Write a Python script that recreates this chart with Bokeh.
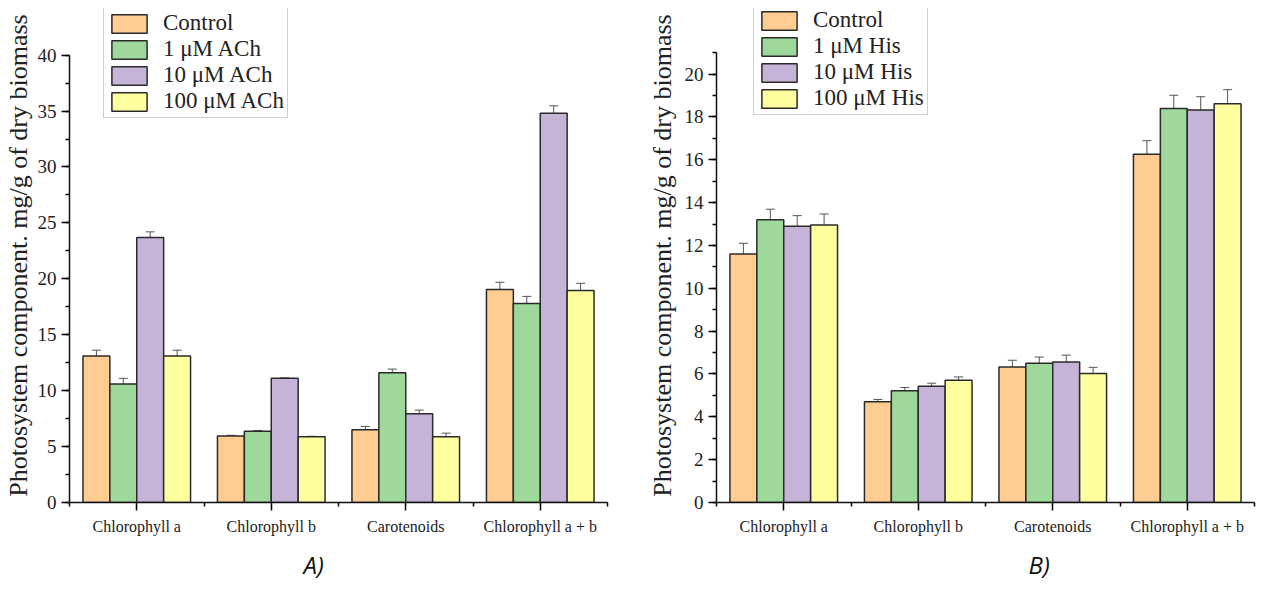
from bokeh.plotting import figure
from bokeh.models import (ColumnDataSource, Whisker, TeeHead, FixedTicker, Legend,
                          LegendItem, Title, Range1d)
from bokeh.layouts import row
from bokeh.embed import file_html
from bokeh.resources import INLINE

categories = ["Chlorophyll a", "Chlorophyll b", "Carotenoids", "Chlorophyll a + b"]

series_a = ["Control", "1 μM ACh", "10 μM ACh", "100 μM ACh"]
a_control = [13.1, 5.95, 6.5, 19.05]
a_1 = [10.6, 6.38, 11.6, 17.8]
a_10 = [23.7, 11.1, 7.93, 34.8]
a_100 = [13.1, 5.87, 5.87, 18.96]
a_err_control = [0.52, 0.06, 0.3, 0.64]
a_err_1 = [0.5, 0.06, 0.33, 0.63]
a_err_10 = [0.5, 0.05, 0.33, 0.67]
a_err_100 = [0.52, 0.05, 0.33, 0.64]

series_b = ["Control", "1 μM His", "10 μM His", "100 μM His"]
b_control = [11.6, 4.7, 6.33, 16.26]
b_1 = [13.2, 5.22, 6.5, 18.39]
b_10 = [12.9, 5.43, 6.56, 18.32]
b_100 = [12.95, 5.71, 6.02, 18.61]
b_err_control = [0.5, 0.11, 0.31, 0.63]
b_err_1 = [0.49, 0.15, 0.29, 0.62]
b_err_10 = [0.49, 0.14, 0.32, 0.62]
b_err_100 = [0.52, 0.15, 0.29, 0.66]

colors = ["#FFCC91", "#9ED89B", "#C6B4D8", "#FFFFA0"]

SERIF = "Liberation Serif"
HEIGHT = 589


def make_panel(series, values, errors, ymax, yview_max, ystep, yminor, panel_label,
               label_offset, width, borders, legend_loc, ylabel_standoff):
    bl, br, bt, bb = borders
    p = figure(width=width, height=HEIGHT, x_range=Range1d(0, len(categories)),
               y_range=Range1d(0, yview_max), output_backend="svg", toolbar_location=None,
               min_border_left=bl, min_border_right=br, min_border_top=bt,
               min_border_bottom=bb)
    p.outline_line_color = None
    p.xgrid.visible = False
    p.ygrid.visible = False
    p.background_fill_color = "white"
    p.border_fill_color = "white"

    n = len(series)
    bw = 0.2
    items = []
    for j, (name, vals, errs) in enumerate(zip(series, values, errors)):
        xs = [i + 0.5 + (j - (n - 1) / 2) * bw for i in range(len(categories))]
        src = ColumnDataSource(dict(
            x=xs, top=vals,
            upper=[v + e for v, e in zip(vals, errs)],
            lower=[v - e for v, e in zip(vals, errs)],
        ))
        r = p.vbar(x="x", top="top", width=bw, bottom=0, source=src,
                   fill_color=colors[j], line_color="#2a2a2a", line_width=1.5)
        items.append(LegendItem(label=name, renderers=[r]))
        w = Whisker(base="x", upper="upper", lower="lower", source=src,
                    line_color="#555555", line_width=1,
                    upper_head=TeeHead(size=9, line_color="#555555", line_width=1),
                    lower_head=TeeHead(size=9, line_color="#555555", line_width=1))
        p.add_layout(w)

    # x axis
    xa = p.xaxis[0]
    xa.ticker = FixedTicker(ticks=[i + 0.5 for i in range(len(categories))],
                            minor_ticks=list(range(len(categories) + 1)))
    xa.major_label_overrides = {i + 0.5: c for i, c in enumerate(categories)}
    xa.major_label_text_font = SERIF
    xa.major_label_text_font_size = "16px"
    xa.major_label_text_color = "#222222"
    xa.major_label_standoff = 7
    xa.axis_line_width = 1.5
    xa.axis_line_color = "#111111"
    xa.major_tick_line_width = 1.5
    xa.minor_tick_line_width = 1.5
    xa.major_tick_out = 8
    xa.major_tick_in = 0
    xa.minor_tick_out = 4
    xa.minor_tick_in = 0

    # y axis
    ya = p.yaxis[0]
    ya.bounds = (0, ymax)
    nmaj = int(round(ymax // ystep))
    ya.ticker = FixedTicker(ticks=[k * ystep for k in range(nmaj + 1)],
                            minor_ticks=[k * yminor for k in range(int(round(ymax / yminor)) + 1)])
    ya.major_label_text_font = SERIF
    ya.major_label_text_font_size = "19px"
    ya.major_label_text_color = "#222222"
    ya.major_label_standoff = 5
    ya.axis_line_width = 1.5
    ya.axis_line_color = "#111111"
    ya.major_tick_line_width = 1.5
    ya.minor_tick_line_width = 1.5
    ya.major_tick_out = 8
    ya.major_tick_in = 0
    ya.minor_tick_out = 4
    ya.minor_tick_in = 0
    ya.axis_label = "Photosystem component. mg/g of dry biomass"
    ya.axis_label_text_font = SERIF
    ya.axis_label_text_font_size = "26px"
    ya.axis_label_text_font_style = "normal"
    ya.axis_label_text_color = "#222222"
    ya.axis_label_standoff = ylabel_standoff

    legend = Legend(items=items, location=legend_loc)
    legend.border_line_color = "#a0a0a0"
    legend.border_line_width = 1
    legend.background_fill_color = "white"
    legend.background_fill_alpha = 1
    legend.label_text_font = SERIF
    legend.label_text_font_size = "23px"
    legend.label_text_color = "#222222"
    legend.glyph_width = 44
    legend.glyph_height = 23
    legend.label_height = 26
    legend.spacing = 0
    legend.padding = 3
    legend.margin = 0
    legend.label_standoff = 12
    p.add_layout(legend)

    t = Title(text=panel_label, align="left", offset=label_offset, standoff=17,
              text_font="Open Sans", text_font_style="italic", text_font_size="24px",
              text_color="#111111")
    p.add_layout(t, "below")
    return p


pa = make_panel(series_a, [a_control, a_1, a_10, a_100],
                [a_err_control, a_err_1, a_err_10, a_err_100],
                40, 44.17, 5, 2.5, "A)", 234, 640, (67, 33, 8, 86), (34, 384), 2)
pb = make_panel(series_b, [b_control, b_1, b_10, b_100],
                [b_err_control, b_err_1, b_err_10, b_err_100],
                21, 23.06, 2, 1, "B)", 312, 624, (76, 10, 8, 83), (37, 387), 5)

layout = row(pa, pb)
open("out.html", "w").write(file_html(layout, INLINE))
